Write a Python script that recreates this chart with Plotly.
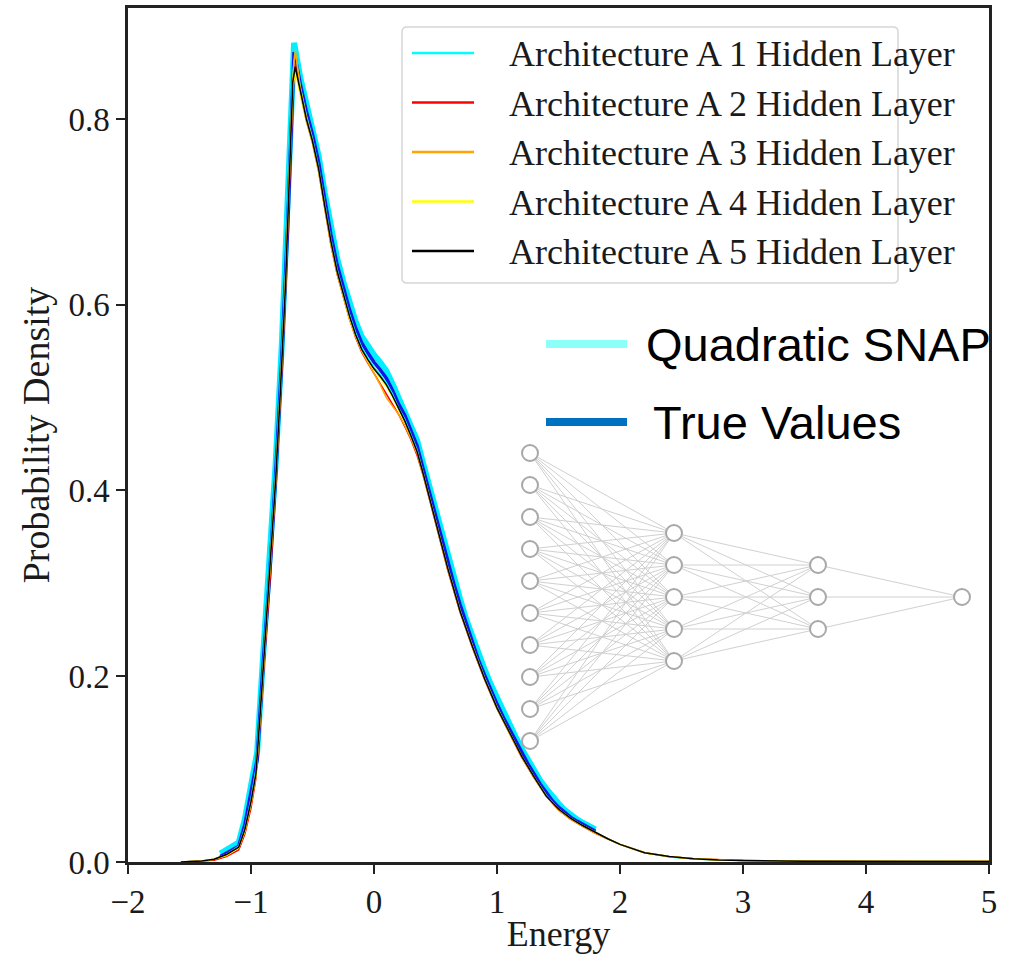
import plotly.graph_objects as go

# ---------------- data ----------------
# histogram bin centres shared by the two reference histograms
hist_energy = [-1.25, -1.20, -1.15, -1.10, -1.05, -1.00, -0.95, -0.90, -0.85, -0.80,
               -0.75, -0.70, -0.65, -0.60, -0.55, -0.50, -0.45, -0.40, -0.35, -0.30,
               -0.25, -0.20, -0.15, -0.10, -0.05, 0.00, 0.05, 0.10, 0.15, 0.20,
               0.25, 0.30, 0.35, 0.40, 0.45, 0.50, 0.55, 0.60, 0.65, 0.70,
               0.75, 0.80, 0.85, 0.90, 0.95, 1.00, 1.05, 1.10, 1.15, 1.20,
               1.25, 1.30, 1.35, 1.40, 1.45, 1.50, 1.55, 1.60, 1.65, 1.70,
               1.75, 1.80]

quadratic_snap = [0.009, 0.013, 0.016, 0.021, 0.046, 0.082, 0.118, 0.225, 0.318, 0.428,
                  0.556, 0.706, 0.882, 0.845, 0.815, 0.790, 0.760, 0.720, 0.682, 0.650,
                  0.625, 0.602, 0.582, 0.566, 0.555, 0.546, 0.538, 0.529, 0.515, 0.500,
                  0.487, 0.471, 0.454, 0.429, 0.404, 0.379, 0.354, 0.329, 0.305, 0.283,
                  0.261, 0.242, 0.223, 0.207, 0.191, 0.176, 0.161, 0.148, 0.135, 0.122,
                  0.110, 0.099, 0.088, 0.079, 0.070, 0.063, 0.056, 0.050, 0.046, 0.042,
                  0.038, 0.035]

true_values = [0.006, 0.010, 0.013, 0.017, 0.040, 0.075, 0.110, 0.215, 0.305, 0.415,
               0.540, 0.690, 0.872, 0.838, 0.808, 0.783, 0.753, 0.713, 0.675, 0.643,
               0.618, 0.595, 0.575, 0.559, 0.548, 0.538, 0.530, 0.521, 0.508, 0.493,
               0.481, 0.465, 0.448, 0.423, 0.398, 0.373, 0.348, 0.323, 0.299, 0.277,
               0.256, 0.236, 0.217, 0.201, 0.185, 0.170, 0.156, 0.143, 0.130, 0.118,
               0.106, 0.095, 0.084, 0.075, 0.066, 0.059, 0.053, 0.048, 0.044, 0.040,
               0.036, 0.033]

# energy grid of the five network-architecture curves
arch_energy = [-1.57, -1.50, -1.40, -1.30, -1.20, -1.10, -1.05, -1.00, -0.96, -0.92,
               -0.88, -0.84, -0.80, -0.76, -0.72, -0.69, -0.66, -0.64, -0.60, -0.55,
               -0.50, -0.45, -0.40, -0.35, -0.30, -0.25, -0.20, -0.15, -0.10, -0.05,
               0.00, 0.05, 0.10, 0.15, 0.20, 0.25, 0.30, 0.35, 0.40, 0.45,
               0.50, 0.60, 0.70, 0.80, 0.90, 1.00, 1.10, 1.20, 1.30, 1.40,
               1.50, 1.60, 1.70, 1.80, 1.90, 2.00, 2.20, 2.40, 2.60, 2.80,
               3.00, 3.50, 4.00, 4.50, 5.00]

arch_1 = [0.000, 0.0005, 0.001, 0.003, 0.008, 0.017, 0.037, 0.068, 0.100, 0.175,
          0.255, 0.330, 0.420, 0.520, 0.635, 0.745, 0.850, 0.875, 0.835, 0.804,
          0.779, 0.748, 0.708, 0.670, 0.638, 0.613, 0.590, 0.570, 0.554, 0.543,
          0.533, 0.525, 0.516, 0.504, 0.489, 0.477, 0.461, 0.444, 0.419, 0.394,
          0.369, 0.317, 0.271, 0.233, 0.198, 0.167, 0.140, 0.114, 0.092, 0.072,
          0.057, 0.047, 0.039, 0.032, 0.025, 0.019, 0.010, 0.0055, 0.0033, 0.0021,
          0.0015, 0.0008, 0.0005, 0.0004, 0.0006]

arch_2 = [0.000, 0.0005, 0.001, 0.002, 0.006, 0.013, 0.030, 0.058, 0.090, 0.160,
          0.240, 0.315, 0.405, 0.505, 0.615, 0.725, 0.830, 0.860, 0.828, 0.798,
          0.774, 0.743, 0.703, 0.664, 0.633, 0.609, 0.585, 0.565, 0.549, 0.537,
          0.526, 0.515, 0.503, 0.493, 0.482, 0.469, 0.455, 0.438, 0.416, 0.391,
          0.366, 0.314, 0.269, 0.231, 0.196, 0.165, 0.139, 0.113, 0.091, 0.071,
          0.056, 0.046, 0.038, 0.031, 0.025, 0.019, 0.010, 0.0058, 0.0034, 0.0022,
          0.0016, 0.0009, 0.0005, 0.0004, 0.0006]

arch_3 = [0.000, 0.0005, 0.001, 0.003, 0.008, 0.016, 0.034, 0.064, 0.094, 0.168,
          0.248, 0.320, 0.410, 0.512, 0.625, 0.738, 0.845, 0.874, 0.834, 0.802,
          0.776, 0.744, 0.704, 0.665, 0.634, 0.609, 0.585, 0.566, 0.550, 0.538,
          0.526, 0.514, 0.500, 0.491, 0.482, 0.470, 0.456, 0.440, 0.417, 0.392,
          0.367, 0.315, 0.270, 0.232, 0.197, 0.166, 0.139, 0.113, 0.091, 0.071,
          0.056, 0.046, 0.038, 0.031, 0.025, 0.019, 0.010, 0.0060, 0.0036, 0.0023,
          0.0016, 0.0009, 0.0006, 0.0005, 0.0007]

arch_4 = [0.000, 0.0005, 0.001, 0.003, 0.007, 0.015, 0.033, 0.063, 0.093, 0.166,
          0.246, 0.318, 0.408, 0.508, 0.618, 0.728, 0.832, 0.852, 0.826, 0.798,
          0.774, 0.744, 0.704, 0.666, 0.635, 0.610, 0.586, 0.567, 0.551, 0.540,
          0.530, 0.521, 0.512, 0.501, 0.487, 0.474, 0.458, 0.442, 0.418, 0.393,
          0.368, 0.316, 0.270, 0.232, 0.197, 0.166, 0.140, 0.114, 0.092, 0.071,
          0.057, 0.047, 0.039, 0.032, 0.025, 0.019, 0.010, 0.0058, 0.0034, 0.0022,
          0.0015, 0.0008, 0.0005, 0.0004, 0.0006]

arch_5 = [0.000, 0.0005, 0.001, 0.003, 0.008, 0.016, 0.035, 0.065, 0.095, 0.170,
          0.250, 0.320, 0.410, 0.510, 0.620, 0.730, 0.840, 0.856, 0.830, 0.800,
          0.776, 0.746, 0.706, 0.668, 0.636, 0.611, 0.588, 0.568, 0.552, 0.541,
          0.531, 0.523, 0.514, 0.502, 0.488, 0.475, 0.459, 0.442, 0.418, 0.393,
          0.368, 0.316, 0.270, 0.232, 0.197, 0.166, 0.140, 0.114, 0.092, 0.071,
          0.057, 0.047, 0.039, 0.032, 0.025, 0.019, 0.010, 0.0058, 0.0035, 0.0022,
          0.0015, 0.0008, 0.0005, 0.0004, 0.0006]

arch_names = ["Architecture A 1 Hidden Layer", "Architecture A 2 Hidden Layer",
              "Architecture A 3 Hidden Layer", "Architecture A 4 Hidden Layer",
              "Architecture A 5 Hidden Layer"]
arch_series = [arch_1, arch_2, arch_3, arch_4, arch_5]

x_ticks = [-2, -1, 0, 1, 2, 3, 4, 5]
y_ticks = [0.0, 0.2, 0.4, 0.6, 0.8]

# network sketch: neurons per layer
layer_sizes = [10, 5, 3, 1]

# ---------------- styles / layout constants ----------------
W, H = 1015, 954
L, R, T, B = 128, 989, 8, 862          # plot-area box in pixels
arch_colors = ["#00FFFF", "#FF0000", "#FFA500", "#FFFF00", "#000000"]
serif = "Liberation Serif"
sans = "Liberation Sans"
ink = "#1a1a1a"

fig = go.Figure()

# reference histograms
fig.add_trace(go.Scatter(x=hist_energy, y=quadratic_snap, mode="lines",
                         line=dict(color="#00EEFF", width=6),
                         name="Quadratic SNAP", showlegend=False))
fig.add_trace(go.Scatter(x=hist_energy, y=true_values, mode="lines",
                         line=dict(color="#1414E6", width=3.5),
                         name="True Values", showlegend=False))
# architecture curves
for nm, ys, c in zip(arch_names, arch_series, arch_colors):
    fig.add_trace(go.Scatter(x=arch_energy, y=ys, mode="lines",
                             line=dict(color=c, width=1.5), name=nm, showlegend=False))

# ---------------- network sketch on a pixel overlay ----------------
layer_x0, layer_dx, node_dy, net_cy = 530, 144, 32, 597
nodes = []
for li, n in enumerate(layer_sizes):
    col = []
    for k in range(n):
        col.append((layer_x0 + li * layer_dx, net_cy + (k - (n - 1) / 2) * node_dy))
    nodes.append(col)
ex, ey = [], []
for a, b in zip(nodes[:-1], nodes[1:]):
    for p in a:
        for q in b:
            ex += [p[0], q[0], None]
            ey += [p[1], q[1], None]
fig.add_trace(go.Scatter(x=ex, y=ey, mode="lines", xaxis="x2", yaxis="y2",
                         line=dict(color="#D0D0D0", width=1), hoverinfo="skip",
                         showlegend=False))
fig.add_trace(go.Scatter(x=[p[0] for c in nodes for p in c],
                         y=[p[1] for c in nodes for p in c],
                         mode="markers", xaxis="x2", yaxis="y2",
                         marker=dict(symbol="circle", size=16, color="white",
                                     line=dict(color="#A8A8A8", width=2)),
                         hoverinfo="skip", showlegend=False))

shapes = []
annotations = []

# ---------------- legend 1 (drawn) ----------------
bx0, bx1, by0, by1, rr = 402, 898, 27, 283, 5
path = (f"M{bx0+rr},{by0} L{bx1-rr},{by0} Q{bx1},{by0} {bx1},{by0+rr} "
        f"L{bx1},{by1-rr} Q{bx1},{by1} {bx1-rr},{by1} L{bx0+rr},{by1} "
        f"Q{bx0},{by1} {bx0},{by1-rr} L{bx0},{by0+rr} Q{bx0},{by0} {bx0+rr},{by0} Z")
shapes.append(dict(type="path", path=path, xref="x2", yref="y2",
                   line=dict(color="#D6D6D6", width=1.5), fillcolor="rgba(255,255,255,0.85)",
                   layer="above"))
row0, row_dy = 53, 49.5
for i, (nm, c) in enumerate(zip(arch_names, arch_colors)):
    yy = row0 + i * row_dy
    shapes.append(dict(type="line", xref="x2", yref="y2", x0=412, x1=474, y0=yy, y1=yy,
                       line=dict(color=c, width=2.5), layer="above"))
    annotations.append(dict(text=nm, xref="x2", yref="y2", x=507, y=yy + 1,
                            xanchor="left", yanchor="middle", showarrow=False,
                            font=dict(family=serif, size=36, color=ink)))

# ---------------- legend 2 (drawn) ----------------
for txt, c, yy, tx in [("Quadratic SNAP", "#8CFFF8", 344, 644), ("True Values", "#0070C0", 422, 651)]:
    shapes.append(dict(type="line", xref="x2", yref="y2", x0=546, x1=627, y0=yy, y1=yy,
                       line=dict(color=c, width=8), layer="above"))
    annotations.append(dict(text=txt, xref="x2", yref="y2", x=tx, y=yy,
                            xanchor="left", yanchor="middle", showarrow=False,
                            font=dict(family=sans, size=47, color="black")))

axis_common = dict(showgrid=False, zeroline=False, showline=True, linewidth=2.5,
                   linecolor="#222222", mirror=True, ticks="outside", ticklen=9,
                   tickwidth=2, tickcolor="#222222",
                   tickfont=dict(family=serif, size=33, color=ink))

fig.update_layout(
    width=W, height=H,
    margin=dict(l=L, r=W - R, t=T, b=H - B, autoexpand=False),
    paper_bgcolor="white", plot_bgcolor="white",
    showlegend=False,
    xaxis=dict(range=[-2, 5], tickvals=x_ticks, **axis_common,
               title=dict(text="Energy", font=dict(family=serif, size=36, color=ink), standoff=6)),
    yaxis=dict(range=[0, 0.9195], tickvals=y_ticks, tickformat=".1f", **axis_common,
               title=dict(text="Probability Density", font=dict(family=serif, size=38, color=ink), standoff=8)),
    xaxis2=dict(overlaying="x", range=[L, R], visible=False, fixedrange=True),
    yaxis2=dict(overlaying="y", range=[B, T], visible=False, fixedrange=True),
    shapes=shapes, annotations=annotations,
)

fig.write_html("out.html")
